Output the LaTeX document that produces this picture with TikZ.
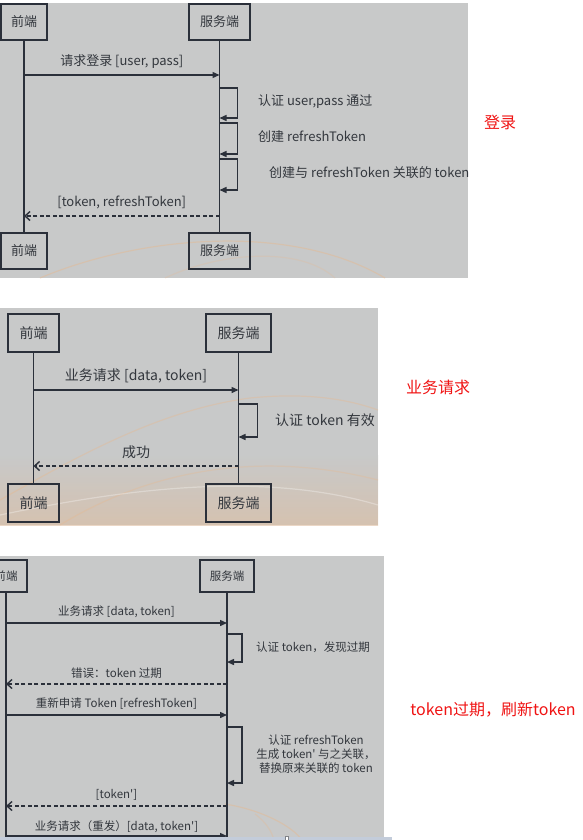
\documentclass[tikz,border=0pt]{standalone}
\usepackage{fontspec}
\setmainfont{Noto Sans CJK SC}
\usetikzlibrary{arrows.meta, positioning}
\definecolor{panelgray}{HTML}{C8C9C9}
\definecolor{seqline}{HTML}{2B303A}
\definecolor{seqtext}{HTML}{33373D}
\definecolor{notered}{HTML}{F01414}
\definecolor{glow}{HTML}{F0B47E}
\definecolor{stripblue}{HTML}{C3CCDA}
\newcommand{\tokq}{\textquotesingle}
\tikzset{
  actor/.style={rectangle, draw=seqline, line width=1.6bp, text=seqtext, inner sep=0pt},
  life/.style={draw=seqline, line width=1.6bp},
  call/.style={-{Triangle[length=7bp, width=6bp]}, draw=seqline, line width=1.4bp},
  reply/.style={-{Straight Barb[length=5bp, width=9bp]}, draw=seqline, line width=1.4bp, dash pattern=on 4bp off 2.5bp},
  self/.style={-{Triangle[length=7bp, width=6bp]}, draw=seqline, line width=1.4bp},
  lbl/.style={text=seqtext, inner sep=0pt},
  note/.style={text=notered, inner sep=0pt, font=\fontsize{16bp}{18bp}\selectfont},
  glowline/.style={draw=glow, line width=1.2bp, opacity=.35},
  pone/.style={font=\fontsize{13bp}{15bp}\selectfont},
  ptwo/.style={font=\fontsize{14bp}{16bp}\selectfont},
  pthree/.style={font=\fontsize{11.5bp}{14.3bp}\selectfont},
}

\begin{document}
\begin{tikzpicture}[x=1bp, y=-1bp]
\clip (0,0) rectangle (583,840);
\fill[white] (0,0) rectangle (583,840);

% --- login
\fill[panelgray] (0,3) rectangle (468,278);
\draw[glowline] (40,278) .. controls (140,236) and (290,222) .. (385,278);
\draw[glowline, opacity=.2] (165,278) .. controls (220,252) and (300,246) .. (335,278);
\node[actor, pone, minimum width=46bp, minimum height=36bp] (fe1) at (24,22) {前端};
\node[actor, pone, minimum width=61bp, minimum height=36bp] (be1) at (219.5,22) {服务端};
\node[actor, pone, minimum width=46bp, minimum height=36bp] (fe1b) at (24,251) {前端};
\node[actor, pone, minimum width=61bp, minimum height=36bp] (be1b) at (219.5,251) {服务端};
\draw[life] (fe1) -- (fe1b);
\draw[life] (be1) -- (be1b);
\draw[call] (fe1 |- 0,75) -- node[lbl, pone, above=6bp] {请求登录 [user, pass]} (be1 |- 0,75);
\draw[self] (be1 |- 0,88) -- ++(18,0) -- ++(0,30) -- (be1 |- 0,118);
\draw[self] (be1 |- 0,123) -- ++(18,0) -- ++(0,31) -- (be1 |- 0,154);
\draw[self] (be1 |- 0,159) -- ++(18,0) -- ++(0,31) -- (be1 |- 0,190);
\node[lbl, pone, anchor=west] (chk1) at (258,102) {认证 user,pass 通过};
\node[lbl, pone, anchor=west] (mkrt) at (258,137) {创建 refreshToken};
\node[lbl, pone, anchor=west] (mktk) at (269,173) {创建与 refreshToken 关联的 token};
\draw[reply] (be1 |- 0,216) -- node[lbl, pone, above=6bp] {[token, refreshToken]} (fe1 |- 0,216);
\node[note] (login) at (500,122) {登录};

% --- business request
\fill[panelgray] (0,308) rectangle (378,525);
\shade[top color=panelgray, bottom color=glow!55!panelgray, opacity=.6] (0,455) rectangle (378,525);
\draw[glowline, opacity=.3] (0,500) .. controls (80,455) and (160,410) .. (250,398) .. controls (310,392) and (350,400) .. (378,410);
\draw[glowline, opacity=.25] (60,525) .. controls (150,470) and (260,450) .. (378,480);
\draw[glowline, draw=white, opacity=.3] (0,515) .. controls (120,490) and (260,470) .. (378,505);
\node[actor, ptwo, minimum width=51bp, minimum height=38bp] (fe2) at (33.5,333) {前端};
\node[actor, ptwo, minimum width=65bp, minimum height=38bp] (be2) at (238.5,333) {服务端};
\node[actor, ptwo, minimum width=51bp, minimum height=38bp] (fe2b) at (33.5,503) {前端};
\node[actor, ptwo, minimum width=65bp, minimum height=38bp] (be2b) at (238.5,503) {服务端};
\draw[life] (fe2) -- (fe2b);
\draw[life] (be2) -- (be2b);
\draw[call] (fe2 |- 0,390) -- node[lbl, ptwo, above=6bp] {业务请求 [data, token]} (be2 |- 0,390);
\draw[self] (be2 |- 0,404) -- ++(19,0) -- ++(0,33) -- (be2 |- 0,437);
\node[lbl, ptwo, anchor=west] (chk2) at (275,420) {认证 token 有效};
\draw[reply] (be2 |- 0,466) -- node[lbl, ptwo, above=7bp] {成功} (fe2 |- 0,466);
\node[note] (bizreq) at (438,387) {业务请求};

% --- token expired, refresh
\fill[panelgray] (0,556) rectangle (384,840);
\draw[glowline] (225,804) .. controls (262,810) and (292,826) .. (302,840);
\draw[glowline, opacity=.25] (255,814) .. controls (266,822) and (272,832) .. (274,840);
\node[actor, pthree, minimum width=42bp, minimum height=32bp] (fe3) at (6,576) {前端};
\node[actor, pthree, minimum width=54bp, minimum height=32bp] (be3) at (227,576) {服务端};
\coordinate (fe3end) at (6,845);
\coordinate (be3end) at (227,845);
\draw[life] (fe3) -- (fe3end);
\draw[life] (be3) -- (be3end);
\draw[call] (fe3 |- 0,623) -- node[lbl, pthree, above=5bp] {业务请求 [data, token]} (be3 |- 0,623);
\draw[self] (be3 |- 0,634) -- ++(15,0) -- ++(0,28) -- (be3 |- 0,662);
\node[lbl, pthree, anchor=west] (chk3) at (256,647) {认证 token，发现过期};
\draw[reply] (be3 |- 0,684) -- node[lbl, pthree, above=5bp] {错误：token 过期} (fe3 |- 0,684);
\draw[call] (fe3 |- 0,715) -- node[lbl, pthree, above=5bp] {重新申请 Token [refreshToken]} (be3 |- 0,715);
\draw[self] (be3 |- 0,727) -- ++(15,0) -- ++(0,56) -- (be3 |- 0,783);
\node[lbl, pthree, align=center, anchor=center] (renew) at (316,754) {认证 refreshToken\\生成 token\tokq{} 与之关联，\\替换原来关联的 token};
\draw[reply] (be3 |- 0,806) -- node[lbl, pthree, above=5bp] {[token\tokq]} (fe3 |- 0,806);
\draw[call] (fe3 |- 0,836) -- node[lbl, pthree, above=3bp] {业务请求（重发）[data, token\tokq]} (be3 |- 0,836);
\fill[stripblue] (0,837) rectangle (392,840);
\draw[seqline!60, fill=white, line width=.5bp] (285.5,836.5) rectangle (288.5,841);
\node[note] (expired) at (493,710) {token过期，刷新token};
\end{tikzpicture}
\end{document}
